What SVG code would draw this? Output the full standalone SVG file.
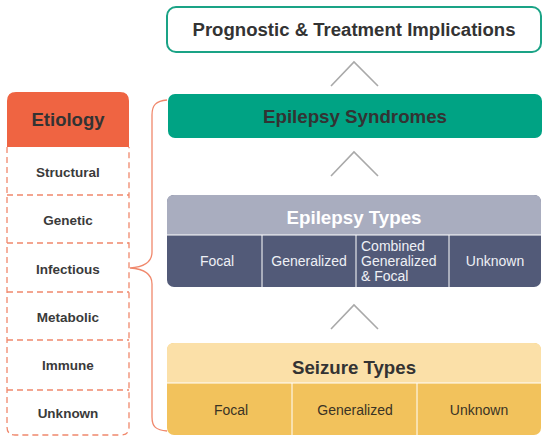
<svg xmlns="http://www.w3.org/2000/svg" width="550" height="443" viewBox="0 0 550 443">
<style>
text{font-family:"Liberation Sans",Arial,sans-serif;text-anchor:middle}
.title{font-weight:bold;fill:#333}
.wt{font-weight:bold;fill:#fff}
.cell{font-size:14px;fill:#eef0f5}
.scell{font-size:14px;fill:#3a3325}
.et{font-size:13.5px;font-weight:bold;fill:#3a3a3a}
.chev{fill:none;stroke:#a9a9a9;stroke-width:1.6}
.dash{stroke:#f0886c;stroke-width:1.3;stroke-dasharray:6 4;fill:none}
</style>
<rect width="550" height="443" fill="#fff"/>
<g id="connectors">
<polyline class="chev" points="331,86 354,62 378,86"/>
<polyline class="chev" points="331,176 354,152 378,176"/>
<polyline class="chev" points="331,329 354,305 378,329"/>
<path d="M167,100 C156,101 152,105 152,115 L152,252 C152,262 145,267 130,268 C145,269 152,274 152,284 L152,417 C152,427 156,430 167,431" fill="none" stroke="#f0886c" stroke-width="1.3"/>
</g>
<g id="prognostic">
<rect x="167" y="7" width="374" height="45" rx="9" fill="#fff" stroke="#1aa386" stroke-width="2"/>
<text class="title" x="354" y="36" font-size="17.5" textLength="323" lengthAdjust="spacingAndGlyphs">Prognostic &amp; Treatment Implications</text>
</g>
<g id="syndromes">
<rect x="168" y="94" width="374" height="44" rx="7" fill="#00a384"/>
<text class="title" x="355" y="123" font-size="19" textLength="184" lengthAdjust="spacingAndGlyphs">Epilepsy Syndromes</text>
</g>
<g id="epilepsy-types">
<rect x="167" y="195" width="374" height="92" rx="7" fill="#525a78"/>
<path d="M167,235 L167,202 Q167,195 174,195 L534,195 Q541,195 541,202 L541,235 Z" fill="#a9adbf"/>
<line x1="167" y1="235" x2="541" y2="235" stroke="#fff" stroke-width="1"/>
<line x1="262" y1="235" x2="262" y2="287" stroke="#fff" stroke-width="1"/>
<line x1="356" y1="235" x2="356" y2="287" stroke="#fff" stroke-width="1"/>
<line x1="449" y1="235" x2="449" y2="287" stroke="#fff" stroke-width="1"/>
<text class="wt" x="354" y="224" font-size="18" textLength="135" lengthAdjust="spacingAndGlyphs">Epilepsy Types</text>
<text class="cell" x="217" y="266">Focal</text>
<text class="cell" x="309" y="266">Generalized</text>
<text class="cell" x="361" y="251" style="text-anchor:start" font-size="11.5">Combined</text>
<text class="cell" x="361" y="266" style="text-anchor:start" font-size="11.5">Generalized</text>
<text class="cell" x="361" y="281" style="text-anchor:start" font-size="11.5">&amp; Focal</text>
<text class="cell" x="495" y="266">Unknown</text>
</g>
<g id="seizure-types">
<rect x="167" y="343" width="374" height="92" rx="7" fill="#f2c25c"/>
<path d="M167,383 L167,350 Q167,343 174,343 L534,343 Q541,343 541,350 L541,383 Z" fill="#fbe0a8"/>
<line x1="167" y1="383" x2="541" y2="383" stroke="#fff" stroke-width="1"/>
<line x1="292" y1="383" x2="292" y2="435" stroke="#fff" stroke-width="1"/>
<line x1="417" y1="383" x2="417" y2="435" stroke="#fff" stroke-width="1"/>
<text class="title" x="354" y="374" font-size="18" textLength="124" lengthAdjust="spacingAndGlyphs">Seizure Types</text>
<text class="scell" x="231" y="415">Focal</text>
<text class="scell" x="355" y="415">Generalized</text>
<text class="scell" x="479" y="415">Unknown</text>
</g>
<g id="etiology">
<path d="M7,147 L7,101 Q7,92 16,92 L120,92 Q129,92 129,101 L129,147 Z" fill="#ef6442"/>
<path class="dash" d="M7,147 L7,427 Q7,435 15,435 L121,435 Q129,435 129,427 L129,147"/>
<line class="dash" x1="7" y1="195" x2="129" y2="195"/>
<line class="dash" x1="7" y1="243" x2="129" y2="243"/>
<line class="dash" x1="7" y1="292" x2="129" y2="292"/>
<line class="dash" x1="7" y1="340" x2="129" y2="340"/>
<line class="dash" x1="7" y1="390" x2="129" y2="390"/>
<text class="title" x="68" y="126" font-size="18.5">Etiology</text>
<text class="et" x="68" y="177">Structural</text>
<text class="et" x="68" y="225">Genetic</text>
<text class="et" x="68" y="274">Infectious</text>
<text class="et" x="68" y="322">Metabolic</text>
<text class="et" x="68" y="370">Immune</text>
<text class="et" x="68" y="418">Unknown</text>
</g>
</svg>
